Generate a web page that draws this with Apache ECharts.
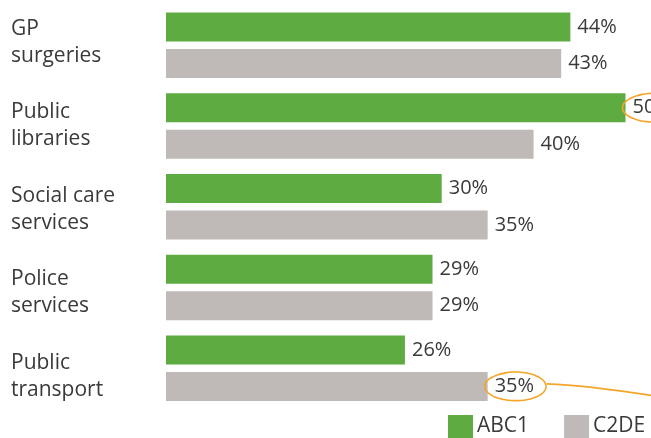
<!DOCTYPE html>
<html>
<head>
<meta charset="utf-8">
<script src="https://cdn.jsdelivr.net/npm/echarts@6/dist/echarts.min.js"></script>
<style>
  html, body { margin: 0; padding: 0; background: #ffffff; }
  #chart { width: 651px; height: 438px; }
</style>
</head>
<body>
<div id="chart"></div>
<script>
// Service categories (top to bottom) and share of each social grade
const categories = ['GP\nsurgeries', 'Public\nlibraries', 'Social care\nservices', 'Police\nservices', 'Public\ntransport'];
const abc1 = [44, 50, 30, 29, 26];
const c2de = [43, 40, 35, 29, 35];
const seriesNames = ['ABC1', 'C2DE'];

// Highlighted values: [series index, category index]
const highlights = [[0, 1], [1, 4]];

const GREEN = '#5eab42';
const GREY = '#bfbab7';
const TEXT = '#3a3a3a';
const ORANGE = '#f4a52a';
const FONT = '"Open Sans", "Noto Sans", sans-serif';

const BAR_W = 29;
const GAP_RATIO = 0.26;

const chart = echarts.init(document.getElementById('chart'), null, { renderer: 'canvas' });

const labelCfg = {
  show: true,
  position: 'right',
  distance: 7,
  formatter: '{c}%',
  color: TEXT,
  fontFamily: FONT,
  fontSize: 20
};

chart.setOption({
  animation: false,
  backgroundColor: '#ffffff',
  grid: [
    // bars
    { left: 166, right: 25.5, top: 5, bottom: 29.5, containLabel: false, outerBoundsMode: 'none' },
    // category captions, on a slightly looser rhythm than the bars
    { left: 166, right: 25.5, top: 0.5, bottom: 20, containLabel: false, outerBoundsMode: 'none' }
  ],
  xAxis: [
    { type: 'value', min: 0, max: 50, show: false, gridIndex: 0 },
    { type: 'value', min: 0, max: 50, show: false, gridIndex: 1 }
  ],
  yAxis: [
    {
      type: 'category', gridIndex: 0,
      data: categories,
      inverse: true,
      show: false
    },
    {
      type: 'category', gridIndex: 1,
      data: categories,
      inverse: true,
      axisLine: { show: false },
      axisTick: { show: false },
      splitLine: { show: false },
      axisLabel: {
        align: 'left',
        margin: 155,
        color: TEXT,
        fontFamily: FONT,
        fontSize: 21,
        lineHeight: 27
      }
    }
  ],
  legend: {
    left: 448,
    top: 415,
    width: 240,
    padding: 0,
    icon: 'rect',
    itemWidth: 25,
    itemHeight: 23,
    itemGap: 35,
    textStyle: { color: TEXT, fontFamily: FONT, fontSize: 21, padding: [0, 0, 0, -1] },
    data: seriesNames
  },
  series: [
    {
      name: seriesNames[0], type: 'bar', data: abc1,
      xAxisIndex: 0, yAxisIndex: 0,
      barWidth: BAR_W, barGap: (GAP_RATIO * 100) + '%',
      itemStyle: { color: GREEN },
      label: labelCfg
    },
    {
      name: seriesNames[1], type: 'bar', data: c2de,
      xAxisIndex: 0, yAxisIndex: 0,
      barWidth: BAR_W, barGap: (GAP_RATIO * 100) + '%',
      itemStyle: { color: GREY },
      label: labelCfg
    }
  ]
});

// Hand-drawn style loops round the highlighted value labels
function loopPoints(cx, cy, rx, ry) {
  // slightly open loop with an overlapping tail, like a pen stroke
  const pts = [];
  const start = -2.2, end = start + Math.PI * 2 + 0.35;
  for (let t = start; t <= end; t += 0.08) {
    const k = 1 + 0.04 * (t - start) / (end - start);
    pts.push([cx + rx * k * Math.cos(t), cy + ry * Math.sin(t) * (1 - 0.03 * (t - start) / (end - start))]);
  }
  return pts;
}

const graphics = [];
const seriesData = [abc1, c2de];
highlights.forEach(([s, i], n) => {
  const v = seriesData[s][i];
  const xEnd = chart.convertToPixel({ xAxisIndex: 0 }, v);
  const yBand = chart.convertToPixel({ yAxisIndex: 0 }, i);
  const off = (BAR_W + BAR_W * GAP_RATIO) / 2;
  const cy = yBand + (s === 0 ? -off : off);
  const cx = xEnd + 28;
  const rx = 30, ry = 14.5;
  graphics.push({
    type: 'polyline',
    shape: { points: loopPoints(cx, cy, rx, ry), smooth: 0.3 },
    style: { stroke: ORANGE, lineWidth: 1.6, fill: null },
    z: 10
  });
  if (n === highlights.length - 1) {
    graphics.push({
      type: 'bezierCurve',
      shape: {
        x1: cx + rx + 1, y1: cy - 2.5,
        cpx1: cx + rx + 40, cpy1: cy - 1,
        x2: chart.getWidth(), y2: cy + 9
      },
      style: { stroke: ORANGE, lineWidth: 1.8, fill: null },
      z: 10
    });
  }
});

chart.setOption({ graphic: graphics });
</script>
</body>
</html>
